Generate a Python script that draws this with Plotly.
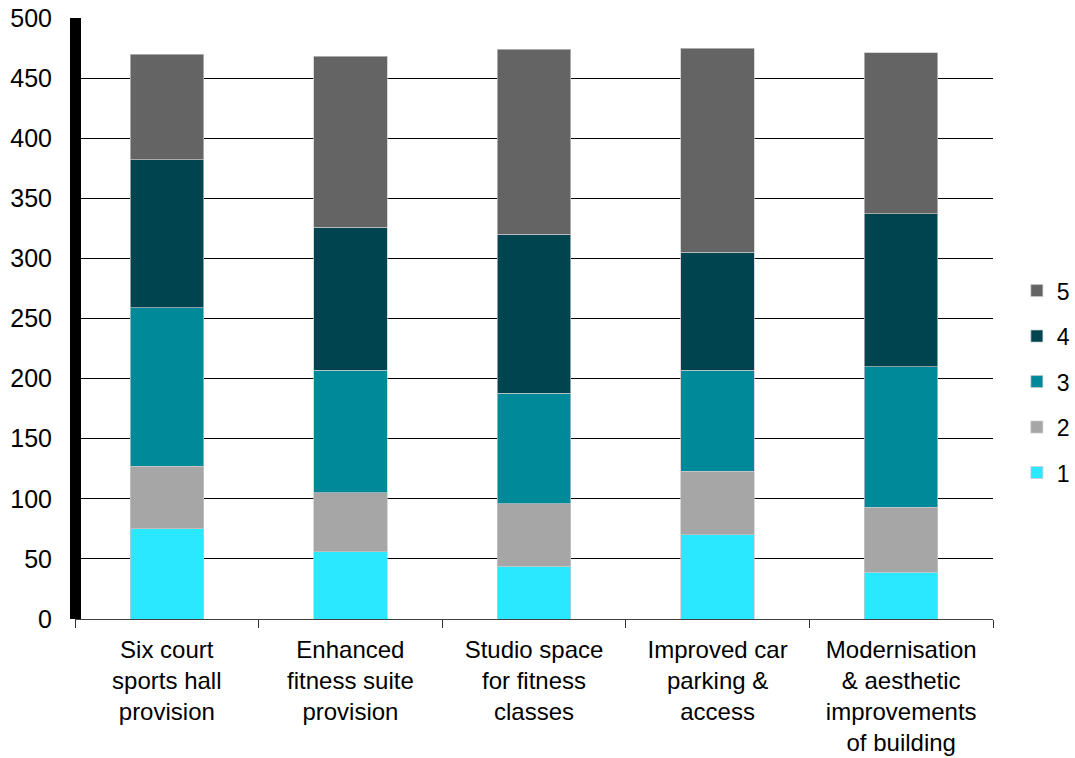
import plotly.graph_objects as go

# Facility improvement ratings: number of responses at each score (1-5)
categories = [
    "Six court<br>sports hall<br>provision",
    "Enhanced<br>fitness suite<br>provision",
    "Studio space<br>for fitness<br>classes",
    "Improved car<br>parking &<br>access",
    "Modernisation<br>& aesthetic<br>improvements<br>of building",
]
score_1 = [75, 56, 44, 70, 39]
score_2 = [52, 49, 52, 53, 54]
score_3 = [132, 102, 92, 84, 117]
score_4 = [123, 119, 132, 98, 127]
score_5 = [88, 142, 154, 170, 134]

series = [
    ("1", score_1, "#2AE8FF"),
    ("2", score_2, "#A6A6A6"),
    ("3", score_3, "#008A99"),
    ("4", score_4, "#00444F"),
    ("5", score_5, "#646464"),
]

fig = go.Figure()
for rank, (name, vals, color) in enumerate(series):
    fig.add_trace(go.Bar(
        x=categories, y=vals, name=name, legendgroup=name,
        legendrank=len(series) - rank,
        marker=dict(color=color, line=dict(color="#C8C8C8", width=0.7)),
    ))

FONT = "Liberation Sans, Arial, sans-serif"

fig.update_layout(
    barmode="stack",
    bargap=0.6,
    width=1075, height=758,
    margin=dict(l=75, r=82, t=18, b=139, autoexpand=False),
    paper_bgcolor="white", plot_bgcolor="white",
    font=dict(family=FONT, color="black"),
    showlegend=True,
    legend=dict(
        traceorder="grouped", tracegroupgap=12.6,
        font=dict(size=23, family=FONT, color="black"),
        x=1.026, xanchor="left", y=0.395, yanchor="middle",
        bgcolor="rgba(0,0,0,0)", itemwidth=30,
    ),
    xaxis=dict(
        type="category", tickson="boundaries", ticks="outside", ticklen=8,
        tickcolor="#333333", tickwidth=1, ticklabelstandoff=9,
        showline=True, linecolor="#404040", linewidth=1,
        showgrid=False, tickfont=dict(size=24, family=FONT, color="black"),
    ),
    xaxis2=dict(
        overlaying="x", anchor="y", side="bottom", range=[-0.5, 4.5],
        tickvals=[0, 1, 2, 3, 4], ticks="inside", ticklen=6,
        tickcolor="#333333", tickwidth=1,
        showticklabels=False, showgrid=False, showline=False, zeroline=False,
    ),
    xaxis3=dict(
        overlaying="x", anchor="y", side="bottom", range=[-0.5, 4.5],
        tickvals=[0, 1, 2, 3, 4], ticks="outside", ticklen=6,
        tickcolor="#333333", tickwidth=1,
        showticklabels=False, showgrid=False, showline=False, zeroline=False,
    ),
    yaxis=dict(
        range=[0, 500], tickvals=list(range(0, 501, 50)),
        showgrid=True, gridcolor="black", gridwidth=1, zeroline=False,
        ticks="outside", ticklen=17, tickcolor="rgba(0,0,0,0)",
        showline=False, tickfont=dict(size=25, family=FONT, color="black"),
    ),
    shapes=[dict(
        type="rect", xref="x domain", yref="y domain",
        xsizemode="pixel", xanchor=0, x0=-5, x1=6, y0=0, y1=1,
        fillcolor="black", line=dict(width=0), layer="above",
    )],
)

fig.write_html("out.html")
